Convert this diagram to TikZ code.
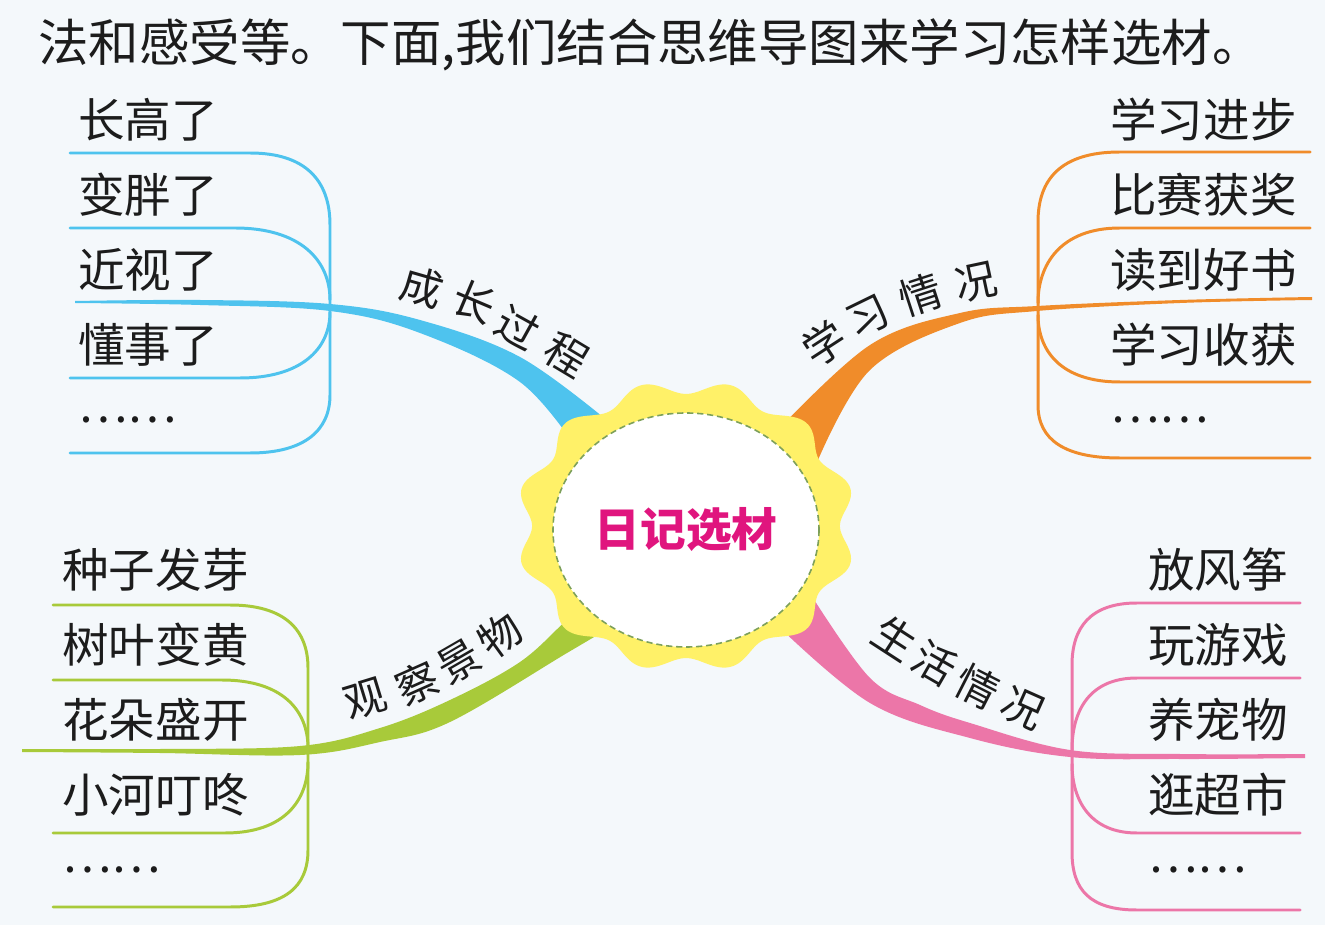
\documentclass[tikz,border=0pt]{standalone}
\usepackage{fontspec}
\setmainfont{Noto Sans CJK SC}
\usepackage{xcolor}
\definecolor{skyBranch}{HTML}{4EC3EE}
\definecolor{orangeBranch}{HTML}{F08C2A}
\definecolor{leafBranch}{HTML}{A8CA3A}
\definecolor{roseBranch}{HTML}{EC76A8}
\definecolor{sunYellow}{HTML}{FFF168}
\definecolor{hubPink}{HTML}{E0157E}
\definecolor{ringGreen}{HTML}{7DA05A}
\definecolor{paper}{HTML}{F4F8FB}
\definecolor{inkBlack}{HTML}{1C1C1C}
\usepackage{tikz}

\begin{document}
\begin{tikzpicture}[x=0.02cm, y=-0.02cm,
  item/.style={anchor=west, inner sep=0pt, text=inkBlack, font=\fontsize{26.5}{28}\selectfont},
  lbl/.style={inner sep=0pt, text=inkBlack, font=\fontsize{24}{26}\selectfont},
  twig/.style={line width=1.7pt, line cap=round}]
  \fill[paper] (0,0) rectangle (1325,925);
  \useasboundingbox (0,0) rectangle (1325,925);
  \node[anchor=west, inner sep=0pt, text=inkBlack, font=\fontsize{28.7}{30}\selectfont] (intro) at (38,45)
    {法和感受等。下面,我们结合思维导图来学习怎样选材。};

  % growth (blue)
  \draw[twig, skyBranch] (70,153) -- (250,153) .. controls (305,153) and (330,180) .. (330,225)
    -- (330,395) .. controls (330,430) and (305,453) .. (250,453) -- (70,453);
  \draw[twig, skyBranch] (70,228) -- (235,228) .. controls (300,228) and (330,260) .. (330,300);
  \draw[twig, skyBranch] (70,378) -- (240,378) .. controls (300,378) and (330,350) .. (330,312);
  \fill[skyBranch] plot[smooth, tension=0.6] coordinates {(75,301) (200,300) (330,304) (420,320) (520,357) (609,422)}
    -- plot[smooth, tension=0.6] coordinates {(577,449) (520,382) (420,333) (330,311) (200,305) (75,303)} -- cycle;

  % study (orange)
  \draw[twig, orangeBranch] (1310,152) -- (1120,152) .. controls (1060,152) and (1038,180) .. (1038,222)
    -- (1038,405) .. controls (1038,440) and (1065,458) .. (1120,458) -- (1310,458);
  \draw[twig, orangeBranch] (1310,228) -- (1120,228) .. controls (1060,228) and (1038,265) .. (1038,303);
  \draw[twig, orangeBranch] (1310,382) -- (1120,382) .. controls (1060,382) and (1038,350) .. (1038,315);
  \fill[orangeBranch] plot[smooth, tension=0.6] coordinates {(1312,297) (1180,300) (1037,306) (960,313) (870,345) (777,431)}
    -- plot[smooth, tension=0.6] coordinates {(818,460) (870,370) (960,323) (1037,311) (1180,303) (1312,300)} -- cycle;

  % nature (green)
  \draw[twig, leafBranch] (53,605) -- (230,605) .. controls (285,605) and (308,630) .. (308,668)
    -- (308,850) .. controls (308,887) and (285,907) .. (230,907) -- (53,907);
  \draw[twig, leafBranch] (53,680) -- (222,680) .. controls (282,680) and (308,710) .. (308,748);
  \draw[twig, leafBranch] (53,833) -- (225,833) .. controls (285,833) and (308,800) .. (308,762);
  \fill[leafBranch] plot[smooth, tension=0.6] coordinates {(22,749) (160,749) (300,746) (380,728) (450,700) (520,662) (567,620) (598,596)}
    -- plot[smooth, tension=0.6] coordinates {(606,630) (567,653) (450,722) (380,742) (300,755) (160,753) (22,752)} -- cycle;

  % daily life (pink)
  \draw[twig, roseBranch] (1300,603) -- (1137,603) .. controls (1090,603) and (1072,628) .. (1072,665)
    -- (1072,852) .. controls (1072,890) and (1090,910) .. (1137,910) -- (1300,910);
  \draw[twig, roseBranch] (1300,678) -- (1137,678) .. controls (1090,678) and (1072,710) .. (1072,750);
  \draw[twig, roseBranch] (1300,833) -- (1137,833) .. controls (1090,833) and (1072,800) .. (1072,764);
  \fill[roseBranch] plot[smooth, tension=0.6] coordinates {(813,598) (870,678) (920,705) (970,723) (1070,750) (1180,754) (1305,754)}
    -- plot[smooth, tension=0.6] coordinates {(1305,758) (1180,759) (1070,757) (970,738) (870,703) (777,625)} -- cycle;

  % centre
  \fill[sunYellow] plot[smooth cycle, variable=\t, domain=0:358, samples=180]
    ({686+162*(1+0.05*cos(12*(\t-15)))*cos(\t)}, {526+139*(1+0.05*cos(12*(\t-15)))*sin(\t)});
  \draw[ringGreen, fill=white, line width=0.9pt, dash pattern=on 3.5pt off 2.2pt]
    (686,530) ellipse [x radius=133, y radius=117];
  \node[inner sep=0pt, text=hubPink, font=\fontsize{26}{28}\selectfont\bfseries] (hub) at (686,530) {日记选材};

  \foreach \ch/\x/\y/\r [count=\i] in {成/422/287/-16, 长/474/302/-23, 过/518/327/-29, 程/567/355/-31}
    \node[lbl, rotate=\r] (growth\i) at (\x,\y) {\ch};
  \foreach \ch/\x/\y/\r [count=\i] in {学/824/343/33, 习/868/317/26, 情/921/295/18, 况/976/282/12}
    \node[lbl, rotate=\r] (study\i) at (\x,\y) {\ch};
  \foreach \ch/\x/\y/\r [count=\i] in {观/365/699/17, 察/417/683/24, 景/459/662/30, 物/500/635/36}
    \node[lbl, rotate=\r] (nature\i) at (\x,\y) {\ch};
  \foreach \ch/\x/\y/\r [count=\i] in {生/895/638/-33, 活/935/663/-30, 情/978/687/-27, 况/1023/708/-24}
    \node[lbl, rotate=\r] (life\i) at (\x,\y) {\ch};

  \foreach \t [count=\i] in {长高了, 变胖了, 近视了, 懂事了, ……}
    \node[item] (growthItem\i) at (78,{45+75*\i}) {\t};
  \foreach \t [count=\i] in {学习进步, 比赛获奖, 读到好书, 学习收获, ……}
    \node[item] (studyItem\i) at (1110,{45+75*\i}) {\t};
  \foreach \t [count=\i] in {种子发芽, 树叶变黄, 花朵盛开, 小河叮咚, ……}
    \node[item] (natureItem\i) at (62,{495+75*\i}) {\t};
  \foreach \t [count=\i] in {放风筝, 玩游戏, 养宠物, 逛超市, ……}
    \node[item] (lifeItem\i) at (1148,{495+75*\i}) {\t};
\end{tikzpicture}
\end{document}
